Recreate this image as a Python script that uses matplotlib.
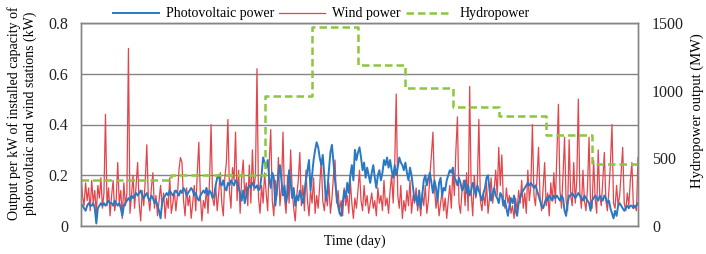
import numpy as np
import matplotlib
matplotlib.use("Agg")
import matplotlib.pyplot as plt

plt.rcParams['font.family'] = ['Liberation Serif', 'DejaVu Serif']

# daily output per kW of installed capacity (kW)
pv_output = [
    0.09, 0.08, 0.07, 0.06, 0.08, 0.09, 0.08, 0.08, 0.09, 0.07,
    0.01, 0.07, 0.08, 0.09, 0.08, 0.09, 0.08, 0.09, 0.10, 0.09,
    0.09, 0.08, 0.10, 0.09, 0.08, 0.09, 0.07, 0.04, 0.08, 0.09,
    0.10, 0.11, 0.10, 0.12, 0.11, 0.12, 0.13, 0.12, 0.13, 0.14,
    0.12, 0.11, 0.12, 0.13, 0.11, 0.10, 0.12, 0.11, 0.09, 0.10,
    0.08, 0.06, 0.03, 0.09, 0.11, 0.12, 0.13, 0.12, 0.14, 0.13,
    0.12, 0.13, 0.14, 0.13, 0.12, 0.14, 0.13, 0.15, 0.14, 0.12,
    0.13, 0.14, 0.15, 0.14, 0.12, 0.13, 0.11, 0.10, 0.12, 0.13,
    0.14, 0.13, 0.15, 0.12, 0.14, 0.13, 0.11, 0.12, 0.16, 0.19,
    0.20, 0.17, 0.16, 0.18, 0.15, 0.14, 0.17, 0.16, 0.18, 0.17,
    0.16, 0.18, 0.17, 0.15, 0.13, 0.10, 0.14, 0.09, 0.12, 0.15,
    0.16, 0.15, 0.17, 0.16, 0.15, 0.16, 0.14, 0.15, 0.20, 0.27,
    0.25, 0.23, 0.26, 0.19, 0.15, 0.21, 0.19, 0.08, 0.14, 0.20,
    0.24, 0.18, 0.12, 0.16, 0.09, 0.13, 0.22, 0.17, 0.11, 0.15,
    0.08, 0.12, 0.10, 0.14, 0.11, 0.09, 0.13, 0.18, 0.22, 0.26,
    0.14, 0.20, 0.26, 0.30, 0.33, 0.31, 0.27, 0.24, 0.28, 0.20,
    0.10, 0.14, 0.22, 0.29, 0.32, 0.25, 0.18, 0.12, 0.08, 0.05,
    0.04, 0.09, 0.14, 0.11, 0.17, 0.13, 0.20, 0.24, 0.18, 0.30,
    0.26, 0.29, 0.31, 0.27, 0.22, 0.25, 0.19, 0.23, 0.20, 0.17,
    0.21, 0.24, 0.19, 0.15, 0.20, 0.22, 0.18, 0.21, 0.26, 0.24,
    0.27, 0.23, 0.26, 0.22, 0.19, 0.24, 0.20, 0.23, 0.27, 0.25,
    0.24, 0.22, 0.25, 0.21, 0.18, 0.23, 0.20, 0.15, 0.10, 0.12,
    0.08, 0.14, 0.07, 0.12, 0.18, 0.20, 0.16, 0.19, 0.21, 0.17,
    0.13, 0.18, 0.15, 0.10, 0.17, 0.19, 0.12, 0.15, 0.14, 0.18,
    0.20, 0.22, 0.21, 0.23, 0.19, 0.18, 0.16, 0.19, 0.17, 0.14,
    0.15, 0.18, 0.13, 0.16, 0.12, 0.14, 0.17, 0.15, 0.12, 0.16,
    0.14, 0.12, 0.10, 0.13, 0.15, 0.19, 0.20, 0.14, 0.10, 0.13,
    0.15, 0.12, 0.11, 0.09, 0.13, 0.12, 0.08, 0.10, 0.07, 0.04,
    0.08, 0.11, 0.09, 0.12, 0.06, 0.04, 0.09, 0.11, 0.13, 0.14,
    0.15, 0.16, 0.17, 0.16, 0.17, 0.16, 0.15, 0.16, 0.14, 0.12,
    0.10, 0.08, 0.07, 0.09, 0.11, 0.10, 0.12, 0.11, 0.10, 0.12,
    0.11, 0.12, 0.11, 0.10, 0.12, 0.11, 0.06, 0.04, 0.09, 0.12,
    0.12, 0.13, 0.12, 0.11, 0.12, 0.13, 0.12, 0.11, 0.10, 0.12,
    0.11, 0.10, 0.09, 0.06, 0.10, 0.11, 0.12, 0.11, 0.10, 0.12,
    0.11, 0.10, 0.12, 0.11, 0.09, 0.10, 0.07, 0.05, 0.03, 0.06,
    0.04, 0.08, 0.09, 0.08, 0.07, 0.06, 0.07, 0.08, 0.07, 0.08,
    0.08, 0.07, 0.08, 0.08, 0.09,
]

wind_output = [
    0.20, 0.12, 0.08, 0.17, 0.10, 0.15, 0.06, 0.18, 0.09, 0.14,
    0.05, 0.16, 0.11, 0.19, 0.07, 0.13, 0.44, 0.08, 0.15, 0.04,
    0.12, 0.18, 0.06, 0.10, 0.25, 0.09, 0.14, 0.03, 0.17, 0.08,
    0.13, 0.70, 0.05, 0.12, 0.20, 0.07, 0.16, 0.25, 0.09, 0.02,
    0.14, 0.08, 0.18, 0.32, 0.11, 0.06, 0.15, 0.21, 0.07, 0.12,
    0.04, 0.10, 0.16, 0.08, 0.13, 0.03, 0.11, 0.07, 0.19, 0.05,
    0.09, 0.14, 0.06, 0.12, 0.22, 0.27, 0.25, 0.10, 0.04, 0.15,
    0.08, 0.12, 0.03, 0.09, 0.16, 0.06, 0.21, 0.33, 0.12, 0.02,
    0.10, 0.07, 0.15, 0.05, 0.18, 0.40, 0.11, 0.08, 0.16, 0.06,
    0.13, 0.21, 0.09, 0.04, 0.19, 0.25, 0.42, 0.14, 0.07, 0.23,
    0.18, 0.37, 0.10, 0.22, 0.05, 0.19, 0.26, 0.12, 0.17, 0.08,
    0.24, 0.09, 0.30, 0.14, 0.20, 0.62, 0.11, 0.05, 0.16, 0.09,
    0.21, 0.13, 0.06, 0.25, 0.38, 0.10, 0.04, 0.18, 0.12, 0.27,
    0.08, 0.15, 0.37, 0.11, 0.05, 0.20, 0.09, 0.30, 0.14, 0.07,
    0.02, 0.12, 0.18, 0.29, 0.08, 0.16, 0.06, 0.22, 0.10, 0.04,
    0.14, 0.09, 0.19, 0.05, 0.12, 0.07, 0.16, 0.26, 0.10, 0.06,
    0.13, 0.08, 0.17, 0.05, 0.11, 0.20, 0.26, 0.09, 0.14, 0.06,
    0.10, 0.04, 0.15, 0.08, 0.12, 0.05, 0.18, 0.09, 0.03, 0.11,
    0.07, 0.14, 0.22, 0.10, 0.06, 0.16, 0.08, 0.12, 0.05, 0.09,
    0.13, 0.07, 0.10, 0.04, 0.15, 0.09, 0.12, 0.06, 0.18, 0.08,
    0.11, 0.05, 0.14, 0.20, 0.09, 0.24, 0.52, 0.12, 0.07, 0.16,
    0.03, 0.10, 0.06, 0.14, 0.08, 0.18, 0.05, 0.12, 0.09, 0.15,
    0.06, 0.11, 0.04, 0.13, 0.08, 0.16, 0.05, 0.10, 0.20, 0.28,
    0.37, 0.15, 0.07, 0.12, 0.04, 0.09, 0.14, 0.06, 0.11, 0.03,
    0.10, 0.16, 0.07, 0.22, 0.12, 0.30, 0.43, 0.09, 0.05, 0.14,
    0.18, 0.08, 0.21, 0.06, 0.55, 0.13, 0.04, 0.20, 0.11, 0.16,
    0.42, 0.10, 0.06, 0.13, 0.08, 0.17, 0.05, 0.11, 0.19, 0.09,
    0.14, 0.22, 0.12, 0.31, 0.16, 0.28, 0.10, 0.07, 0.15, 0.09,
    0.12, 0.05, 0.08, 0.03, 0.11, 0.06, 0.14, 0.09, 0.18, 0.07,
    0.13, 0.05, 0.22, 0.10, 0.16, 0.40, 0.12, 0.08, 0.19, 0.31,
    0.11, 0.06, 0.15, 0.25, 0.08, 0.13, 0.04, 0.17, 0.10, 0.21,
    0.09, 0.28, 0.48, 0.14, 0.07, 0.20, 0.35, 0.10, 0.06, 0.34,
    0.12, 0.08, 0.25, 0.09, 0.18, 0.50, 0.13, 0.07, 0.22, 0.10,
    0.06, 0.15, 0.35, 0.09, 0.07, 0.26, 0.11, 0.05, 0.30, 0.12,
    0.08, 0.18, 0.29, 0.10, 0.06, 0.14, 0.25, 0.40, 0.09, 0.07,
    0.16, 0.08, 0.12, 0.21, 0.31, 0.09, 0.06, 0.13, 0.08, 0.18,
    0.25, 0.07, 0.08, 0.06, 0.27,
]

# monthly hydropower output (MW)
month_days = [31, 28, 31, 30, 31, 30, 31, 31, 30, 31, 30, 31]
hydro_output = [340, 340, 375, 375, 960, 1470, 1190, 1020, 880, 815, 672, 458]

days = np.arange(len(pv_output))
month_start = np.concatenate([[0], np.cumsum(month_days)])
hydro_steps = hydro_output + [hydro_output[-1]]

blue = '#2b78c2'
red = '#e2454b'
green = '#8cc63e'
grey = '#858585'

fig = plt.figure(figsize=(7.06, 2.54), dpi=100)
ax = fig.add_axes([81 / 706, 28 / 254, 557 / 706, 203 / 254])
ax2 = ax.twinx()

l_pv, = ax.plot(days, pv_output, color=blue, lw=1.4, zorder=3)
l_wind, = ax.plot(days, wind_output, color=red, lw=0.9, zorder=2)
l_hydro, = ax2.plot(month_start, hydro_steps, drawstyle='steps-post',
                    color=green, lw=1.8, linestyle=(0, (3, 1.6)))

ax.set_xlim(0, len(pv_output) - 1)
ax.set_ylim(0, 0.8)
ax2.set_ylim(0, 1500)
ax.set_xticks([])
ax.set_yticks([0, 0.2, 0.4, 0.6, 0.8])
ax.set_yticklabels(['0', '0.2', '0.4', '0.6', '0.8'])
ax2.set_yticks([0, 500, 1000, 1500])
ax.yaxis.grid(True, color=grey, lw=1.0)
ax.set_axisbelow(True)
ax.tick_params(axis='y', length=0, pad=9, labelsize=11.5, labelcolor='#222222')
ax2.tick_params(axis='y', length=0, pad=10, labelsize=11.5, labelcolor='#222222')
for a in (ax, ax2):
    for s in a.spines.values():
        s.set_color(grey)
        s.set_linewidth(1.0)

fig.text(22 / 706, 1 - 113 / 254,
         'Output per kW of installed capacity of\nphotovoltaic and wind stations (kW)',
         rotation=90, ha='center', va='center', fontsize=10, linespacing=1.3,
         multialignment='center')
fig.text(697 / 706, 1 - 111 / 254, 'Hydropower output (MW)', rotation=90,
         ha='center', va='center', fontsize=10.5)
fig.text(355 / 706, 1 - 241 / 254, 'Time (day)', ha='center', va='center', fontsize=10)

fig.legend([l_pv, l_wind, l_hydro], ['Photovoltaic power', 'Wind power', 'Hydropower'],
           loc='center', bbox_to_anchor=(321 / 706, 1 - 14 / 254), ncol=3,
           frameon=False, fontsize=10, handlelength=3.3, handletextpad=0.5,
           columnspacing=0.4, borderpad=0, borderaxespad=0)

fig.savefig('out.png', dpi=100)
